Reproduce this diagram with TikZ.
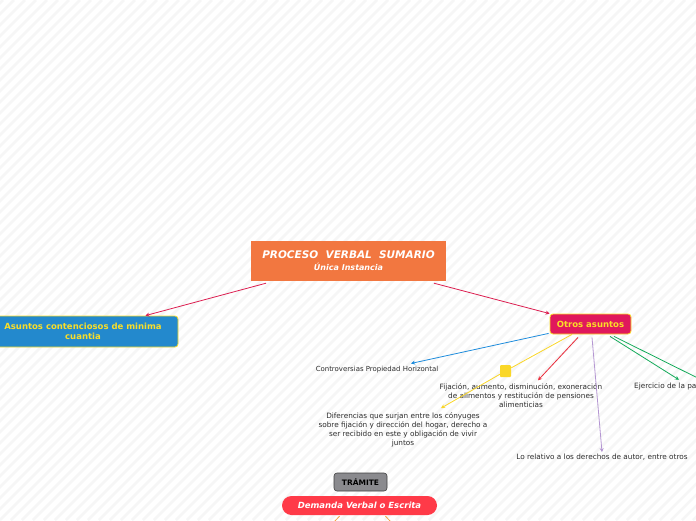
\documentclass[tikz,border=0pt]{standalone}
\usepackage{fontspec}
\setmainfont{DejaVu Sans}
\usetikzlibrary{positioning,calc,arrows.meta}
\definecolor{rootFill}{RGB}{242,119,64}
\definecolor{leftFill}{RGB}{35,137,205}
\definecolor{otrosFill}{RGB}{224,24,92}
\definecolor{yellowEdge}{RGB}{250,222,40}
\definecolor{linkCrimson}{RGB}{220,30,80}
\definecolor{linkBlue}{RGB}{30,140,220}
\definecolor{linkYellow}{RGB}{250,215,40}
\definecolor{linkRed}{RGB}{235,45,60}
\definecolor{linkPurple}{RGB}{180,150,210}
\definecolor{linkGreen}{RGB}{20,170,90}
\definecolor{linkOrange}{RGB}{245,165,70}
\definecolor{tramFill}{RGB}{138,138,142}
\definecolor{demFill}{RGB}{255,58,72}
\definecolor{stripeGray}{RGB}{246,246,246}
\definecolor{leafText}{RGB}{45,45,45}

\begin{document}
\begin{tikzpicture}[
  x=1pt,y=-1pt,
  box/.style={rectangle,align=center,inner sep=2pt},
  topic/.style={box,rounded corners=3pt,draw=yellowEdge,line width=0.8pt,
                text=yellowEdge,font=\fontsize{8.5}{10}\selectfont\bfseries},
  leaf/.style={box,text=leafText,font=\fontsize{7.3}{9}\selectfont},
  link/.style={-{Stealth[length=4pt,width=4pt]},line width=0.8pt},
  plain/.style={line width=0.8pt}
]
\useasboundingbox (0,0) rectangle (696,520);
\clip (0,0) rectangle (696,520);

% ==========  background stripes  ==========
\fill[white] (0,0) rectangle (696,520);
\foreach \a in {-528,-517,...,700}
  \draw[stripeGray,line width=2.5pt] (\a,520) -- ++(520,-520);

% ==========  central topic  ==========
\node[box,fill=rootFill,text=white,minimum width=195,minimum height=40] (root)
  at (348.5,261)
  {{\fontsize{10.5}{13}\selectfont\bfseries\itshape PROCESO\ \ VERBAL\ \ SUMARIO}\\
   {\fontsize{8}{9}\selectfont\bfseries\itshape Única Instancia}};

% ==========  main branches  ==========
\node[topic,fill=leftFill,minimum width=190,minimum height=31] (left)
  at (83,331.5) {Asuntos contenciosos de minima\\cuantia};

\node[topic,fill=otrosFill,minimum width=81,minimum height=20] (otros)
  at (590.5,324) {Otros asuntos};

% ==========  children of "Otros asuntos"  ==========
\node[leaf,font=\fontsize{6.95}{9}\selectfont] (prop) at (377,370)
  {Controversias Propiedad Horizontal};

\node[leaf] (fija) at (521,395.5)
  {Fijación, aumento, disminución, exoneración\\de alimentos y restitución de pensiones\\alimenticias};

\node[leaf] (dif) at (403,429.5)
  {Diferencias que surjan entre los cónyuges\\sobre fijación y dirección del hogar, derecho a\\ser recibido en este y obligación de vivir\\juntos};

\node[leaf] (autor) at (602,457.5) {Lo relativo a los derechos de autor, entre otros};

\node[leaf,anchor=west] (ejer) at (632,386.5) {Ejercicio de la patria potestad};

\node[fill=linkYellow,rounded corners=1pt,minimum width=11,minimum height=12,
      inner sep=0pt] (sq) at (505.5,371) {};

\coordinate (offR) at (740,399);

% ==========  tramite  ==========
\node[box,fill=tramFill,draw=black!75,line width=0.6pt,rounded corners=3pt,
      minimum width=53,minimum height=18,font=\fontsize{7.5}{8}\selectfont\bfseries]
  (tram) at (360.5,482) {TRÁMITE};

\node[box,fill=demFill,text=white,rounded corners=9.5pt,minimum width=155,
      minimum height=19,font=\fontsize{8.5}{10}\selectfont\bfseries\itshape]
  (dem) at (359.5,505.5) {Demanda Verbal o Escrita};

\coordinate (offA) at (317,540);
\coordinate (offB) at (408,540);

% ==========  connectors  ==========
\draw[link,linkCrimson] ($(root.south)+(-82.5,2)$) -- ($(left.north east)+(-33,0)$);
\draw[link,linkCrimson] ($(root.south)+(85.5,2)$) -- (otros.north west);

\draw[link,linkBlue] ($(otros.south west)+(-1,-1)$) -- ($(prop.north)+(34,-1)$);
\draw[plain,linkYellow] ($(otros.south)+(-18.5,0)$) -- (sq);
\draw[link,linkYellow] (sq) -- ($(dif.north)+(38,-2)$);
\draw[link,linkRed] ($(otros.south)+(-12.5,3)$) -- ($(fija.north)+(17,-1)$);
\draw[link,linkPurple] ($(otros.south)+(1.5,3)$) -- (autor.north);
\draw[link,linkGreen] ($(otros.south)+(19.5,2)$) -- ($(ejer.north west)+(47,-1)$);
\draw[plain,linkGreen] ($(otros.south)+(23.5,2)$) -- (offR);

\draw[plain,linkOrange] ($(dem.south)+(-20,1)$) -- (offA);
\draw[plain,linkOrange] ($(dem.south)+(26,1)$) -- (offB);

\end{tikzpicture}
\end{document}
